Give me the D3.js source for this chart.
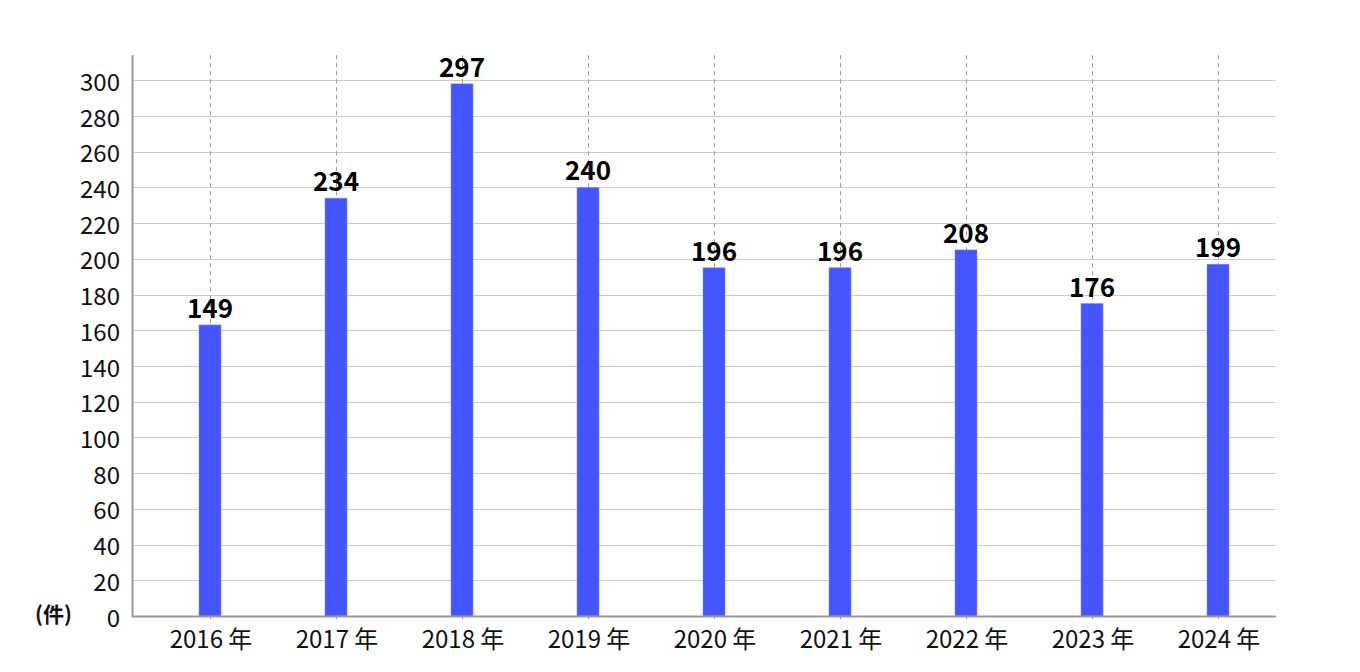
<!DOCTYPE html>
<html>
<head>
<meta charset="utf-8">
<script src="https://cdn.jsdelivr.net/npm/d3@7"></script>
<style>
  html, body { margin: 0; padding: 0; background: #fff; }
  svg { display: block; }
  text { font-family: "Noto Sans CJK JP", "Noto Sans", sans-serif; }
</style>
</head>
<body>
<svg id="chart" width="1360" height="672"></svg>
<script>
// ---- data ----
const categories = ["2016 年", "2017 年", "2018 年", "2019 年", "2020 年", "2021 年", "2022 年", "2023 年", "2024 年"];
// bar heights as drawn in the picture
const barValues = [163, 234, 298, 240, 195, 195, 205, 175, 197];
// value labels printed above the bars
const labelValues = [149, 234, 297, 240, 196, 196, 208, 176, 199];
const yTicks = [0, 20, 40, 60, 80, 100, 120, 140, 160, 180, 200, 220, 240, 260, 280, 300];
const unitLabel = "(件)";

// ---- layout ----
const svg = d3.select("#chart");
const plotLeft = 132, plotRight = 1276, plotBottom = 616, plotTopValue = 314;

const y = d3.scaleLinear().domain([0, 300]).range([plotBottom, 80.3]);
const x = d3.scalePoint().domain(categories).range([210, 1218]);
const barW = 22;

// horizontal gridlines
svg.append("g").selectAll("line").data(yTicks.filter(d => d > 0)).join("line")
  .attr("x1", plotLeft).attr("x2", plotRight)
  .attr("y1", d => Math.round(y(d)) + 0.5).attr("y2", d => Math.round(y(d)) + 0.5)
  .attr("stroke", "#cccccc").attr("stroke-width", 1);

// vertical dashed lines
svg.append("g").selectAll("line").data(categories).join("line")
  .attr("x1", d => Math.round(x(d)) + 0.5).attr("x2", d => Math.round(x(d)) + 0.5)
  .attr("y1", y(plotTopValue)).attr("y2", plotBottom + 6)
  .attr("stroke", "#999").attr("stroke-width", 1).attr("stroke-dasharray", "4,4");

// bars
svg.append("g").selectAll("rect").data(barValues).join("rect")
  .attr("x", (d, i) => x(categories[i]) - barW / 2)
  .attr("y", d => y(d))
  .attr("width", barW)
  .attr("height", d => plotBottom - y(d))
  .attr("fill", "#4455ff")
  .attr("stroke", "#7f8cff").attr("stroke-width", 0.6);

// axes lines
svg.append("line").attr("x1", plotLeft + 0.5).attr("x2", plotLeft + 0.5)
  .attr("y1", y(plotTopValue)).attr("y2", plotBottom + 1)
  .attr("stroke", "#999").attr("stroke-width", 2);
svg.append("line").attr("x1", plotLeft).attr("x2", plotRight)
  .attr("y1", plotBottom + 0.5).attr("y2", plotBottom + 0.5)
  .attr("stroke", "#999").attr("stroke-width", 2);

// y tick labels
svg.append("g").selectAll("text").data(yTicks).join("text")
  .attr("x", 120).attr("y", d => y(d))
  .attr("text-anchor", "end").attr("dominant-baseline", "central")
  .attr("font-size", 24).attr("fill", "#111")
  .text(d => d);

// x labels
svg.append("g").selectAll("text").data(categories).join("text")
  .attr("x", d => x(d) + 1).attr("y", 648)
  .attr("text-anchor", "middle")
  .attr("font-size", 24).attr("fill", "#111")
  .text(d => d);

// value labels
svg.append("g").selectAll("text").data(labelValues).join("text")
  .attr("x", (d, i) => x(categories[i])).attr("y", (d, i) => y(barValues[i]) - 7)
  .attr("text-anchor", "middle")
  .attr("font-size", 26).attr("font-weight", "bold").attr("fill", "#000")
  .text(d => d);

// unit label
svg.append("text").attr("x", 35).attr("y", 622)
  .attr("font-size", 21).attr("font-weight", "bold").attr("fill", "#111")
  .text(unitLabel);
</script>
</body>
</html>
